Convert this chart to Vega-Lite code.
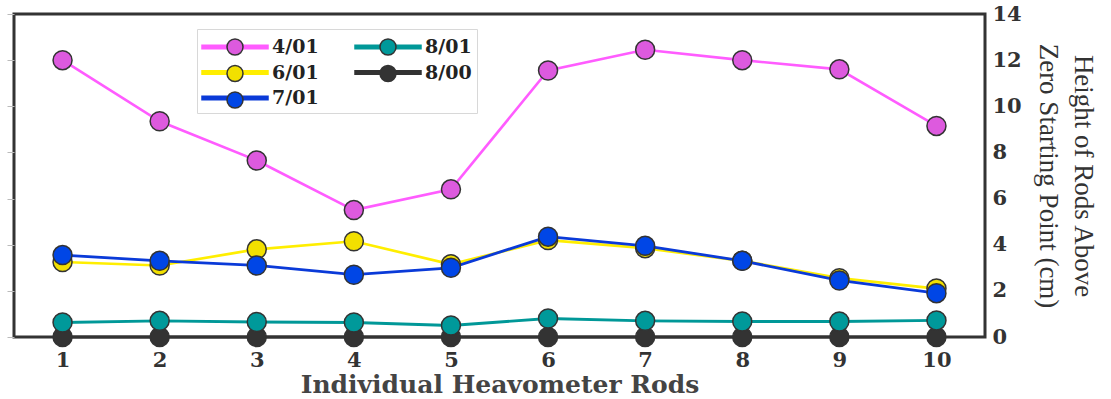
{
  "$schema": "https://vega.github.io/schema/vega-lite/v6.json",
  "width": 971,
  "height": 323,
  "autosize": {"type": "none"},
  "padding": {"left": 14, "top": 14, "right": 126, "bottom": 62},
  "background": "white",
  "config": {
    "view": {"stroke": "#333333", "strokeWidth": 3},
    "axis": {"grid": false, "domain": false}
  },
  "data": {
    "values": [
      {"rod": 1, "series": "8/00", "height": 0},
      {"rod": 2, "series": "8/00", "height": 0},
      {"rod": 3, "series": "8/00", "height": 0},
      {"rod": 4, "series": "8/00", "height": 0},
      {"rod": 5, "series": "8/00", "height": 0},
      {"rod": 6, "series": "8/00", "height": 0},
      {"rod": 7, "series": "8/00", "height": 0},
      {"rod": 8, "series": "8/00", "height": 0},
      {"rod": 9, "series": "8/00", "height": 0},
      {"rod": 10, "series": "8/00", "height": 0},
      {"rod": 1, "series": "8/01", "height": 0.63},
      {"rod": 2, "series": "8/01", "height": 0.7},
      {"rod": 3, "series": "8/01", "height": 0.65},
      {"rod": 4, "series": "8/01", "height": 0.63},
      {"rod": 5, "series": "8/01", "height": 0.5},
      {"rod": 6, "series": "8/01", "height": 0.8},
      {"rod": 7, "series": "8/01", "height": 0.7},
      {"rod": 8, "series": "8/01", "height": 0.67},
      {"rod": 9, "series": "8/01", "height": 0.67},
      {"rod": 10, "series": "8/01", "height": 0.72},
      {"rod": 1, "series": "6/01", "height": 3.25},
      {"rod": 2, "series": "6/01", "height": 3.1},
      {"rod": 3, "series": "6/01", "height": 3.8},
      {"rod": 4, "series": "6/01", "height": 4.15},
      {"rod": 5, "series": "6/01", "height": 3.15},
      {"rod": 6, "series": "6/01", "height": 4.2},
      {"rod": 7, "series": "6/01", "height": 3.85},
      {"rod": 8, "series": "6/01", "height": 3.3},
      {"rod": 9, "series": "6/01", "height": 2.55},
      {"rod": 10, "series": "6/01", "height": 2.1},
      {"rod": 1, "series": "7/01", "height": 3.55},
      {"rod": 2, "series": "7/01", "height": 3.3},
      {"rod": 3, "series": "7/01", "height": 3.1},
      {"rod": 4, "series": "7/01", "height": 2.7},
      {"rod": 5, "series": "7/01", "height": 3.0},
      {"rod": 6, "series": "7/01", "height": 4.35},
      {"rod": 7, "series": "7/01", "height": 3.95},
      {"rod": 8, "series": "7/01", "height": 3.3},
      {"rod": 9, "series": "7/01", "height": 2.45},
      {"rod": 10, "series": "7/01", "height": 1.9},
      {"rod": 1, "series": "4/01", "height": 12.0},
      {"rod": 2, "series": "4/01", "height": 9.35},
      {"rod": 3, "series": "4/01", "height": 7.65},
      {"rod": 4, "series": "4/01", "height": 5.5},
      {"rod": 5, "series": "4/01", "height": 6.4},
      {"rod": 6, "series": "4/01", "height": 11.55},
      {"rod": 7, "series": "4/01", "height": 12.45},
      {"rod": 8, "series": "4/01", "height": 12.0},
      {"rod": 9, "series": "4/01", "height": 11.6},
      {"rod": 10, "series": "4/01", "height": 9.15}
    ]
  },
  "resolve": {
    "axis": {"y": "independent"},
    "legend": {"stroke": "independent", "fill": "independent"}
  },
  "layer": [
    {
      "mark": {"type": "line"},
      "encoding": {
        "x": {
          "field": "rod", "type": "quantitative",
          "scale": {"domain": [0.5, 10.5], "nice": false, "zero": false},
          "axis": {
            "orient": "bottom", "values": [1,2,3,4,5,6,7,8,9,10], "format": "d",
            "ticks": false, "labelPadding": 12,
            "labelFont": "DejaVu Serif", "labelFontWeight": "bold", "labelFontSize": 21, "labelColor": "#333333",
            "title": "Individual Heavometer Rods",
            "titleFont": "DejaVu Serif", "titleFontWeight": "bold", "titleFontSize": 25, "titleColor": "#444444",
            "titlePadding": 2
          }
        },
        "y": {
          "field": "height", "type": "quantitative",
          "scale": {"domain": [0, 14], "nice": false},
          "axis": {
            "orient": "left", "values": [0,2,4,6,8,10,12,14], "labels": false,
            "ticks": true, "tickSize": 7, "tickColor": "#bbbbbb", "tickWidth": 1,
            "title": null
          }
        },
        "stroke": {
          "field": "series", "type": "nominal",
          "scale": {
            "domain": ["4/01", "6/01", "7/01", "8/01", "8/00"],
            "range": ["#ff5cff", "#ffee00", "#0a3ad8", "#009898", "#333333"]
          },
          "legend": {
            "orient": "none", "legendX": 183, "legendY": 15,
            "columns": 2, "columnPadding": 33, "rowPadding": 2.5, "padding": 5,
            "title": null,
            "symbolType": "M-1.061,-0.143L4.327,-0.143L4.327,0.143L-1.061,0.143Z",
            "symbolSize": 600.25, "symbolStrokeWidth": 1.5,
            "labelOffset": 44,
            "labelFont": "DejaVu Serif", "labelFontWeight": "bold", "labelFontSize": 19, "labelColor": "#222222",
            "strokeColor": "#d8d8d8", "fillColor": "white",
            "encode": {"symbols": {"update": {
              "strokeWidth": {"value": 1.5},
              "fill": {"scale": "stroke", "field": "value"},
              "opacity": {"value": 1}
            }}}
          }
        },
        "strokeWidth": {
          "field": "series", "type": "nominal",
          "scale": {
            "domain": ["4/01", "6/01", "7/01", "8/01", "8/00"],
            "range": [2.6, 3, 3, 2.2, 5]
          },
          "legend": null
        }
      }
    },
    {
      "mark": {"type": "point", "filled": true, "shape": "circle", "size": 361, "stroke": "#333333", "strokeWidth": 1.5, "opacity": 1},
      "encoding": {
        "x": {"field": "rod", "type": "quantitative", "scale": {"domain": [0.5, 10.5], "nice": false, "zero": false}},
        "y": {
          "field": "height", "type": "quantitative",
          "scale": {"domain": [0, 14], "nice": false},
          "axis": {
            "orient": "right", "values": [0,2,4,6,8,10,12,14],
            "ticks": false, "labelPadding": 7, "labelAlign": "left",
            "labelFont": "DejaVu Serif", "labelFontWeight": "bold", "labelFontSize": 21, "labelColor": "#333333",
            "title": ["Height of Rods Above", "Zero Starting Point (cm)"],
            "titleFont": "Liberation Serif", "titleFontWeight": "normal", "titleFontSize": 27, "titleColor": "#333333",
            "titlePadding": 12, "titleLineHeight": 35
          }
        },
        "fill": {
          "field": "series", "type": "nominal",
          "scale": {
            "domain": ["4/01", "6/01", "7/01", "8/01", "8/00"],
            "range": ["#dd5ade", "#f2e000", "#0046e6", "#00999a", "#333333"]
          },
          "legend": {
            "orient": "none", "legendX": 183, "legendY": 15,
            "columns": 2, "columnPadding": 33, "rowPadding": 2.5, "padding": 5,
            "title": null,
            "symbolType": "M-1.061,0L-1.061,0M4.327,0L4.327,0M2.286,0A0.653,0.653,0,1,1,0.980,0A0.653,0.653,0,1,1,2.286,0Z",
            "symbolSize": 600.25, "symbolStrokeWidth": 1.5, "symbolStrokeColor": "#333333",
            "labelOffset": 44, "labelOpacity": 0,
            "labelFont": "DejaVu Serif", "labelFontWeight": "bold", "labelFontSize": 19, "labelColor": "#222222",
            "encode": {"symbols": {"update": {"stroke": {"value": "#333333"}, "strokeWidth": {"value": 1.5}, "opacity": {"value": 1}}}}
          }
        }
      }
    }
  ]
}
